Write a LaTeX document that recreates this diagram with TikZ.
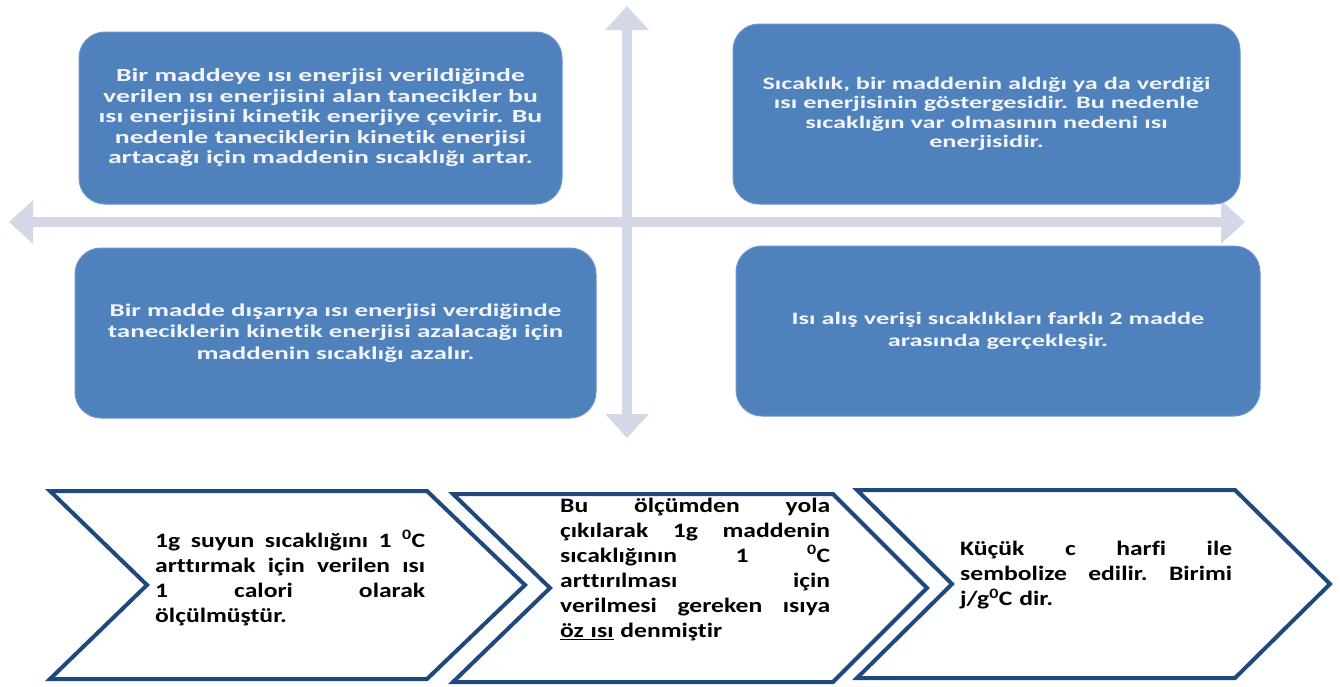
\documentclass[tikz,border=0pt]{standalone}
\usepackage{fontspec}
\setmainfont{Carlito}[FakeStretch=1.25, Ligatures=NoCommon]
\newfontfamily\boxfont{Carlito}[FakeStretch=1.5, Ligatures=NoCommon]
\usetikzlibrary{arrows.meta}
\definecolor{boxblue}{HTML}{4F81BD}
\definecolor{boxedge}{HTML}{6B96CC}
\definecolor{axisgrey}{HTML}{D3D7E7}
\definecolor{chevblue}{HTML}{1F497D}
\definecolor{boxtext}{HTML}{F2F5FB}
% one justified line: words separated by \hfill, spread over the given width
\newcommand\jline[2][270pt]{\makebox[#1][l]{#2}}

\begin{document}
\begin{tikzpicture}[x=1pt,y=-1pt,
  infobox/.style={fill=boxblue, draw=boxedge, line width=1pt, rounded corners=26pt,
    text=boxtext, align=center, inner sep=0pt},
  boxsize/.style 2 args={font=\boxfont\fontsize{#1}{#2}\selectfont\bfseries},
  chevron/.style={draw=chevblue, fill=white, line width=4pt, line join=miter},
  chevtext/.style={anchor=west, text width=272pt, align=left, inner sep=0pt,
    font=\fontsize{20.5}{25}\selectfont\bfseries},
  axisarrow/.style={draw=axisgrey, line width=10pt,
    arrows={Triangle[width=42pt,length=24pt]-Triangle[width=42pt,length=24pt]}}
]
\fill[white] (0,0) rectangle (1340,686);
\useasboundingbox (0,0) rectangle (1340,686);

% axes
\coordinate (west) at (9,222);
\coordinate (east) at (1245,222);
\coordinate (north) at (627,6);
\coordinate (south) at (627,438);
\draw[axisarrow] (west) -- (east);
\draw[axisarrow] (south) -- (north);

% four quadrant boxes
\node[infobox, boxsize={18.5}{20.5}, minimum width=483pt, minimum height=172pt] (q1) at (320.5,118)
  {Bir maddeye ısı enerjisi verildiğinde\\verilen ısı enerjisini alan tanecikler bu\\ısı enerjisini kinetik enerjiye çevirir. Bu\\nedenle taneciklerin kinetik enerjisi\\artacağı için maddenin sıcaklığı artar.};
\node[infobox, boxsize={17.5}{19.5}, minimum width=507pt, minimum height=180pt] (q2) at (986.5,114)
  {Sıcaklık, bir maddenin aldığı ya da verdiği\\ısı enerjisinin göstergesidir. Bu nedenle\\sıcaklığın var olmasının nedeni ısı\\enerjisidir.};
\node[infobox, boxsize={18}{21.5}, minimum width=521pt, minimum height=170pt] (q3) at (335.5,333)
  {Bir madde dışarıya ısı enerjisi verdiğinde\\taneciklerin kinetik enerjisi azalacağı için\\maddenin sıcaklığı azalır.};
\node[infobox, boxsize={17.5}{22}, minimum width=524pt, minimum height=170pt] (q4) at (998,331)
  {Isı alış verişi sıcaklıkları farklı 2 madde\\arasında gerçekleşir.};

% chevron row
\draw[chevron] (50,491) -- (427,491) -- (525,585) -- (427,679) -- (50,679) -- (147,585) -- cycle;
\draw[chevron] (453,494) -- (833,494) -- (927,588) -- (833,682) -- (453,682) -- (550,588) -- cycle;
\draw[chevron] (857,490) -- (1235,490) -- (1330,584) -- (1235,678) -- (857,678) -- (952,584) -- cycle;

\node[chevtext] (c1) at (155,578)
  {\jline{1g\hfill suyun\hfill sıcaklığını\hfill 1\hfill \textsuperscript{0}C}\\
   \jline{arttırmak\hfill için\hfill verilen\hfill ısı}\\
   \jline{1\hfill calori\hfill olarak}\\
   ölçülmüştür.};
\node[chevtext] (c2) at (560,569.5)
  {\jline{Bu\hfill ölçümden\hfill yola}\\
   \jline{çıkılarak\hfill 1g\hfill maddenin}\\
   \jline{sıcaklığının\hfill 1\hfill \textsuperscript{0}C}\\
   \jline{arttırılması\hfill için}\\
   \jline{verilmesi\hfill gereken\hfill ısıya}\\
   \underline{öz ısı} denmiştir};
\node[chevtext] (c3) at (960,575.5)
  {\jline[272pt]{Küçük\hfill c\hfill harfi\hfill ile}\\
   \jline[272pt]{sembolize\hfill edilir.\hfill Birimi}\\
   j/g\textsuperscript{0}C dir.};
\end{tikzpicture}
\end{document}
